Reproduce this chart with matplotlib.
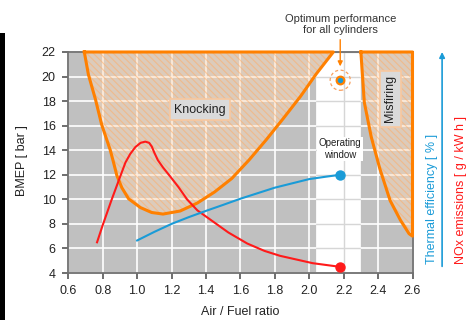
import numpy as np
import matplotlib.pyplot as plt
from matplotlib.patches import Polygon, Rectangle

plt.rcParams['font.family'] = ['Liberation Sans', 'DejaVu Sans']
plt.rcParams['hatch.linewidth'] = 0.8

# knocking limit: left flank (top -> bottom) and right flank (bottom -> top)
knock_left_x = [0.693, 0.717, 0.758, 0.794, 0.844, 0.863, 0.882, 0.911, 0.95, 1.019, 1.084, 1.15]
knock_left_y = [22.0, 20.15, 18.13, 16.08, 14.0, 13.0, 11.95, 10.95, 10.05, 9.33, 8.93, 8.8]
knock_right_x = [1.25, 1.35, 1.45, 1.55, 1.65, 1.75, 1.85, 1.95, 2.04, 2.14]
knock_right_y = [9.05, 9.7, 10.6, 11.7, 13.2, 14.85, 16.6, 18.4, 20.2, 22.0]

# misfiring limit (top -> bottom)
misfire_x = [2.30, 2.32, 2.36, 2.41, 2.47, 2.53, 2.58, 2.60]
misfire_y = [22.0, 17.9, 15.1, 12.5, 9.9, 8.3, 7.2, 7.0]

# NOx emissions vs lambda
nox_afr = [0.767, 0.80, 0.85, 0.90, 0.932, 0.96, 0.99, 1.02, 1.047, 1.07, 1.085, 1.10,
           1.12, 1.15, 1.19, 1.24, 1.29, 1.35, 1.43, 1.53, 1.64, 1.74, 1.83, 2.02, 2.18]
nox = [6.5, 7.9, 9.9, 11.8, 13.0, 13.7, 14.26, 14.6, 14.7, 14.6, 14.3, 13.8,
       13.2, 12.6, 11.9, 11.0, 10.0, 9.1, 8.3, 7.3, 6.4, 5.8, 5.4, 4.8, 4.5]

# thermal efficiency vs lambda
eff_afr = [1.0, 1.1, 1.2, 1.3, 1.4, 1.5, 1.6, 1.7, 1.8, 1.9, 2.0, 2.1, 2.18]
eff = [6.65, 7.35, 8.0, 8.55, 9.06, 9.55, 10.05, 10.5, 10.95, 11.3, 11.65, 11.85, 12.0]

window_lo, window_hi = 2.04, 2.30
optimum_afr, optimum_bmep = 2.18, 19.7

xticks = np.round(np.arange(0.6, 2.61, 0.2), 1)
yticks = np.arange(4, 23, 2)

orange = '#ff8000'
blue = '#1a9bd7'
red = '#ff1a1a'
grey_bg = '#c0c0c0'

fig = plt.figure(figsize=(4.7, 3.2), dpi=100)
ax = fig.add_axes([68.3 / 470, 1 - 273 / 320, 344.2 / 470, 221 / 320])
ax.set_facecolor(grey_bg)
ax.set_xlim(xticks[0], xticks[-1])
ax.set_ylim(yticks[0], yticks[-1])
ax.set_xticks(xticks)
ax.set_yticks(yticks)
ax.set_xticklabels([f'{t:.1f}' for t in xticks])
ax.grid(True, color='white', lw=1.2)
ax.set_axisbelow(True)

# operating window (white), bounded on top-left by the knocking curve
rx = np.array(knock_right_x)
ry = np.array(knock_right_y)
y_cross = np.interp(window_lo, rx, ry)
sel = rx > window_lo
verts = [(window_lo, yticks[0]), (window_hi, yticks[0]), (window_hi, yticks[-1])]
verts += list(zip(rx[sel][::-1], ry[sel][::-1]))
verts += [(window_lo, y_cross)]
win = Polygon(verts, closed=True, facecolor='white', edgecolor='none', zorder=1)
ax.add_patch(win)
for x in xticks:
    ln = ax.axvline(x, color='#d6d6d6', lw=1.0, zorder=1.1)
    ln.set_clip_path(win)
for y in yticks:
    ln = ax.axhline(y, color='#d6d6d6', lw=1.0, zorder=1.1)
    ln.set_clip_path(win)

# hatched regions
kx = np.r_[knock_left_x, knock_right_x]
ky = np.r_[knock_left_y, knock_right_y]
mx = np.r_[misfire_x, misfire_x[-1]]
my = np.r_[misfire_y, yticks[-1]]
for px, py in [(kx, ky), (mx, my)]:
    ax.fill(px, py, facecolor='#ffd9b5', alpha=0.45, lw=0, zorder=2)
    ax.fill(px, py, facecolor='none', edgecolor=(1.0, 0.68, 0.4, 0.55), hatch='\\\\\\\\\\',
            lw=0, zorder=2.1)
    ax.plot(np.r_[px, px[0]], np.r_[py, py[0]], color=orange, lw=2.2, clip_on=False,
            zorder=4, solid_joinstyle='round')

# NOx and efficiency curves
ax.plot(nox_afr, nox, color=red, lw=1.5, zorder=5)
ax.plot(nox_afr[-1], nox[-1], 'o', color=red, ms=6.5, zorder=6)
ax.plot(eff_afr, eff, color=blue, lw=1.5, zorder=5)
ax.plot(eff_afr[-1], eff[-1], 'o', color=blue, ms=6.5, zorder=6)

# optimum point
ax.scatter([optimum_afr], [optimum_bmep], s=14.5 ** 2, facecolors='none', edgecolors='#f8a060',
           linewidths=0.9, linestyles=(0, (2.5, 2)), zorder=6)
ax.plot(optimum_afr, optimum_bmep, 'o', ms=5.5, mfc=blue, mec=orange, mew=1.6, zorder=7)
ax.annotate('Optimum performance\nfor all cylinders', xy=(optimum_afr, optimum_bmep),
            xytext=(0, 40), textcoords='offset points', ha='center', va='center',
            fontsize=8, color='#333333', annotation_clip=False,
            arrowprops=dict(arrowstyle='-|>', color=orange, lw=1.0, mutation_scale=7,
                            shrinkA=1, shrinkB=10))

# region labels
ax.text(1.365, 17.3, 'Knocking', ha='center', va='center', fontsize=9, color='#222222',
        zorder=6, bbox=dict(boxstyle='square,pad=0.35', fc='#dadada', ec='#f8c8a0', lw=1.2))
ax.text(2.47, 18.2, 'Misfiring', ha='center', va='center', rotation=90, fontsize=9,
        color='#222222', zorder=6,
        bbox=dict(boxstyle='square,pad=0.35', fc='#dadada', ec='#f8c8a0', lw=1.2))
ax.text(2.18, 14.1, 'Operating\nwindow', ha='center', va='center', fontsize=7,
        color='#222222', zorder=6, bbox=dict(boxstyle='square,pad=0.15', fc='white', ec='none'))

# axes styling
for sp in ax.spines.values():
    sp.set_color('#707070')
    sp.set_linewidth(1.3)
ax.tick_params(direction='out', length=4.5, width=1.2, color='#555555', labelcolor='#222222',
               labelsize=9)
ax.tick_params(axis='x', pad=4)
ax.tick_params(axis='y', pad=4.5)

ax.set_xlabel('Air / Fuel ratio', fontsize=9, color='#222222', va='center')
ax.xaxis.set_label_coords(0.5, -0.175)
ax.set_ylabel('BMEP [ bar ]', fontsize=9, color='#222222', va='center')
ax.yaxis.set_label_coords(-0.1345, 0.511)

# secondary quantities on the right
ax.text(1.058, 0.337, 'Thermal efficiency [ % ]', transform=ax.transAxes, rotation=90,
        ha='center', va='center', fontsize=9, color=blue)
ax.annotate('', xy=(1.086, 1.0), xycoords='axes fraction', xytext=(1.086, 0.03),
            textcoords='axes fraction', annotation_clip=False,
            arrowprops=dict(arrowstyle='-|>', color=blue, lw=1.2, mutation_scale=8,
                            shrinkA=0, shrinkB=0))
ax.text(1.142, 0.376, 'NOx emissions [ g / kW h ]', transform=ax.transAxes, rotation=90,
        ha='center', va='center', fontsize=9, color=red)

fig.add_artist(Rectangle((0, 0), 5 / 470, 1 - 33 / 320, transform=fig.transFigure,
                         facecolor='black', edgecolor='none'))

fig.savefig('out.png', dpi=100)
